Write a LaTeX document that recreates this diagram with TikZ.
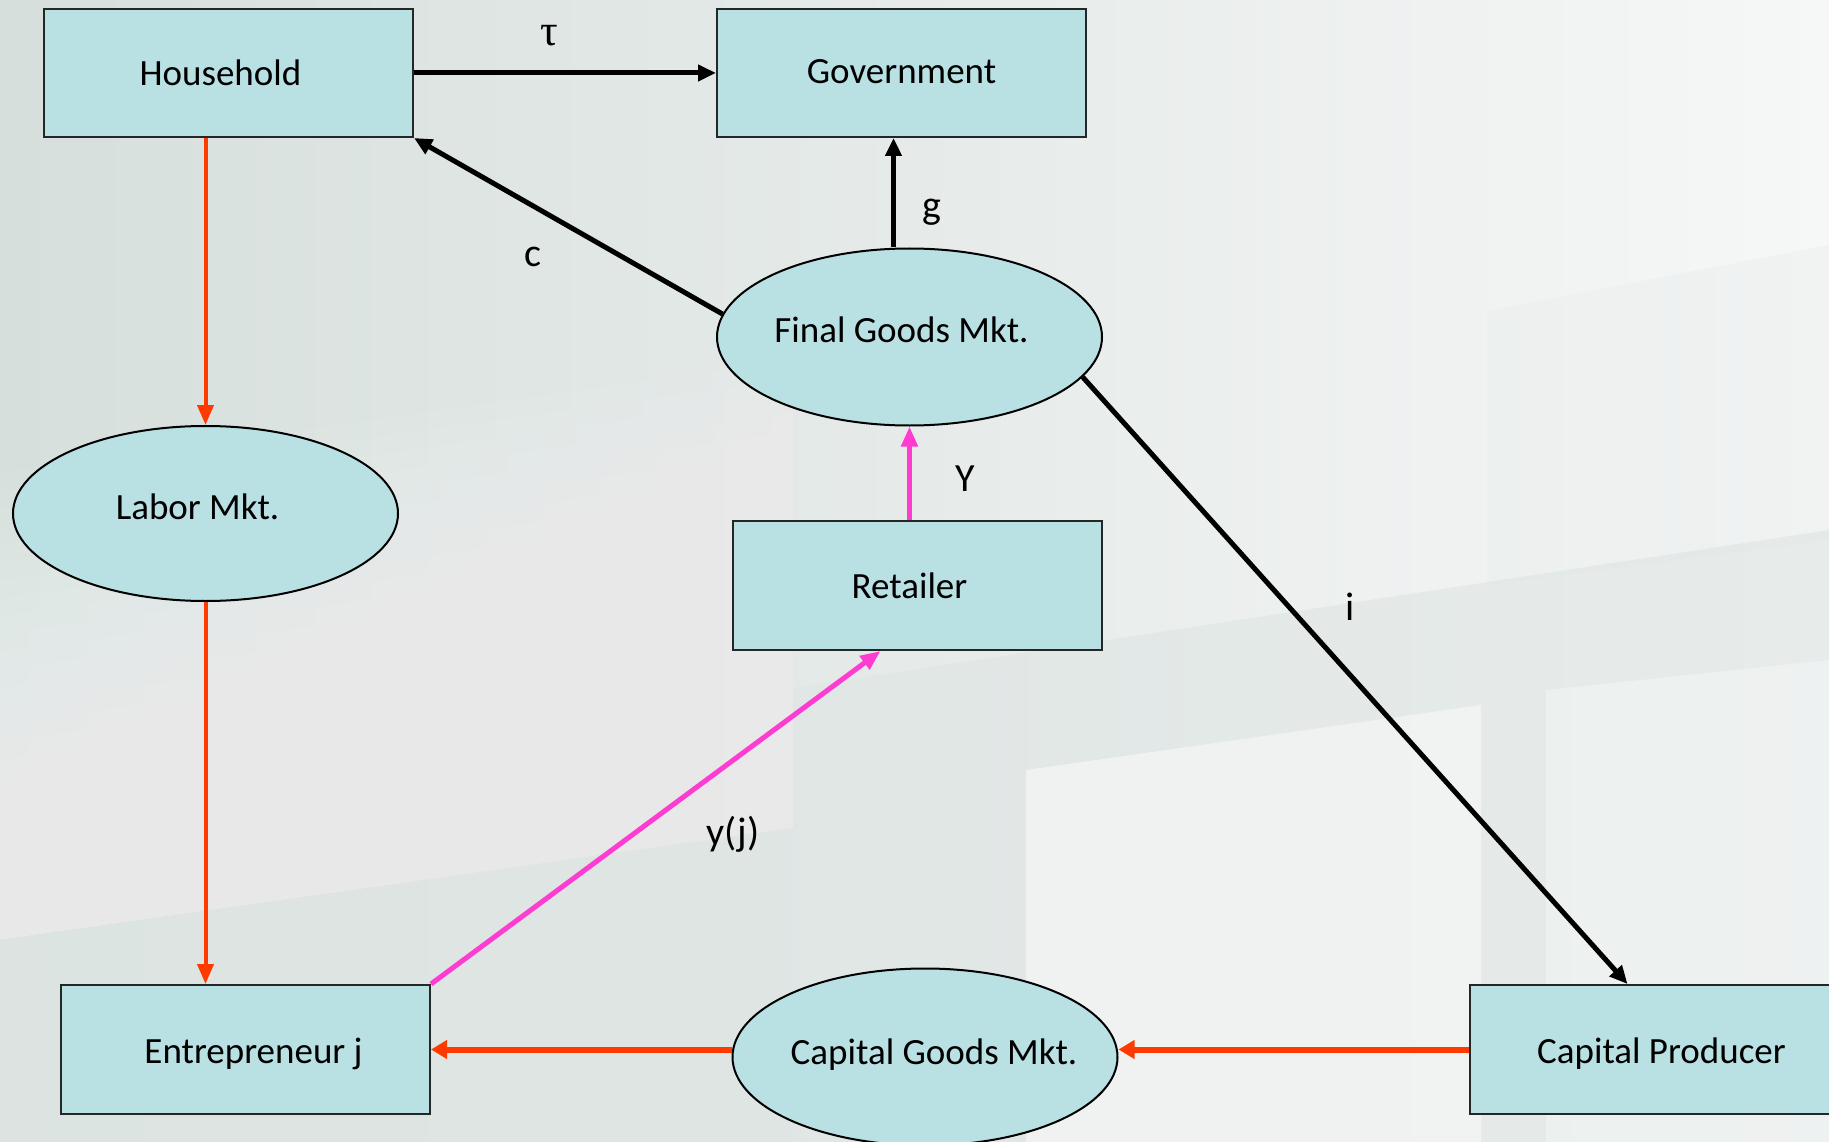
\documentclass[tikz,border=0pt]{standalone}
\usepackage{fontspec}
\setmainfont{Carlito}
\newfontfamily\taufont{Liberation Serif}
\usetikzlibrary{arrows.meta,shapes.geometric,calc}
\definecolor{boxfill}{RGB}{185,224,227}
\definecolor{redc}{RGB}{255,58,0}
\definecolor{magc}{RGB}{255,60,210}
\definecolor{bgL}{RGB}{214,223,220}
\definecolor{bgR}{RGB}{246,247,247}
\definecolor{bgband}{RGB}{222,229,227}
% text placed inside a node, moved by (dx,dy) without changing the node size
\newcommand{\movedtext}[3]{\makebox[0pt]{\hspace*{#1}\hspace*{#1}\raisebox{#2}[\height][\depth]{#3}}}
\begin{document}
\begin{tikzpicture}[x=1pt,y=-1pt,
  box/.style={draw=black!85, line width=2pt, fill=boxfill, rectangle,
    minimum width=369pt, minimum height=129pt, inner sep=0pt,
    font=\fontsize{37}{44}\selectfont},
  mkt/.style={draw=black, line width=2pt, fill=boxfill, ellipse,
    minimum width=385pt, minimum height=177pt, inner sep=0pt,
    font=\fontsize{37}{44}\selectfont},
  blk/.style={line width=5pt, black, -{Triangle[length=18pt,width=16pt]}},
  redthin/.style={line width=4pt, redc, -{Triangle[length=20pt,width=16pt]}},
  redthick/.style={line width=6pt, redc, -{Triangle[length=16pt,width=18pt]}},
  mag/.style={line width=5pt, magc, -{Triangle[length=20pt,width=16pt]}},
  lbl/.style={font=\fontsize{40}{48}\selectfont, inner sep=0pt}
]
\useasboundingbox (0,0) rectangle (1829,1142);
\clip (0,0) rectangle (1829,1142);
% background
\shade[left color=bgL, right color=bgR] (0,0) rectangle (1829,1142);
\foreach \k in {1,...,26}{
  \fill[white, opacity=0.045] (0,{940-18*\k}) -- (793,{828-18*\k}) -- (793,828) -- (0,940) -- cycle;
}
\fill[bgband, opacity=0.8] (0,940) -- (793,828) -- (793,1142) -- (0,1142) -- cycle;
\fill[bgband, opacity=0.6] (793,688) -- (1829,530) -- (1829,1142) -- (793,1142) -- cycle;
\fill[white, opacity=0.45] (1026,770) -- (1481,705) -- (1481,1142) -- (1026,1142) -- cycle;
\fill[white, opacity=0.3] (1546,690) -- (1829,660) -- (1829,1142) -- (1546,1142) -- cycle;
\fill[bgband, opacity=0.2] (1487,311) -- (1829,245) -- (1829,540) -- (1487,585) -- cycle;

% nodes
\node[box, minimum height=128pt] (hh)  at (228.5,73) {\movedtext{-8pt}{0pt}{Household}};
\node[box, minimum height=128pt] (gov) at (901.5,73) {\movedtext{0pt}{1pt}{Government}};
\node[mkt] (fgm) at (909.5,337)  {\movedtext{-8pt}{7pt}{Final Goods Mkt.}};
\node[mkt, minimum height=175pt] (lab) at (205.5,513.5) {\movedtext{-8pt}{7pt}{Labor Mkt.}};
\node[box] (ret) at (917.5,585.5) {\movedtext{-8pt}{0pt}{Retailer}};
\node[box] (ent) at (245.5,1049.5) {\movedtext{8pt}{-4pt}{Entrepreneur j}};
\node[mkt] (cgm) at (925,1057)   {\movedtext{9pt}{2pt}{Capital Goods Mkt.}};
\node[box] (cp) at (1654.5,1049.5) {\movedtext{7pt}{-4pt}{Capital Producer}};

% connectors
\draw[blk] (hh) -- (gov);
\draw[blk] (fgm.173) -- (hh.south east);
\draw[blk] ([xshift=-16pt]fgm.north) -- ([xshift=-16pt]fgm.north |- gov.south);
\draw[blk] (fgm.-13) -- ([xshift=-27pt]cp.north);
\draw[redthin] (lab.north |- hh.south) -- (lab.north);
\draw[redthin] (lab.south) -- (lab.south |- ent.north);
\draw[mag] (fgm.south |- ret.north) -- (fgm.south);
\draw[mag] (ent.north east) -- ([xshift=-37pt]ret.south);
\draw[redthick] (cp.west) -- (cp.west -| cgm.east);
\draw[redthick] (cgm.west |- ent.east) -- (ent.east);

% labels
\node[lbl, font=\fontsize{44}{50}\selectfont] (ltau) at (549,36) {\taufont τ};
\node[lbl] (lc) at (533,257) {c};
\node[lbl] (lg) at (932,212) {g};
\node[lbl] (lY) at (965,479) {Y};
\node[lbl] (lyj) at (733,834) {y(j)};
\node[lbl] (li) at (1350,607) {i};
\end{tikzpicture}
\end{document}
